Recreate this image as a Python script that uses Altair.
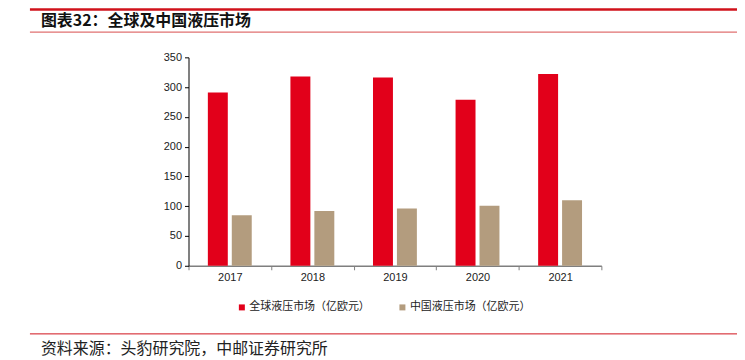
import altair as alt
import pandas as pd

years = ["2017", "2018", "2019", "2020", "2021"]
global_vals = [291, 318, 316, 279, 322]
china_vals = [85, 92, 96, 101, 110]
series = ["全球液压市场（亿欧元）", "中国液压市场（亿欧元）"]
colors = ["#E2001A", "#B39C7E"]
y_ticks = [0, 50, 100, 150, 200, 250, 300, 350]
title_text = ["图表32：全球及中国液压市场"]
source_text = ["资料来源：头豹研究院，中邮证券研究所"]

rows = []
for i, yr in enumerate(years):
    rows.append({"year": yr, "series": series[0], "value": global_vals[i]})
    rows.append({"year": yr, "series": series[1], "value": china_vals[i]})
df = pd.DataFrame(rows)

bars = alt.Chart(df).mark_bar().encode(
    x=alt.X("year:N", sort=years,
            scale=alt.Scale(paddingInner=0, paddingOuter=0),
            axis=alt.Axis(title=None, labelAngle=0, tickBand="extent",
                          domainColor="#7f7f7f", domainWidth=1.5,
                          tickColor="#7f7f7f", tickSize=4, tickWidth=1,
                          labelFont="Liberation Sans", labelFontSize=11,
                          labelColor="#222222", labelPadding=2)),
    xOffset=alt.XOffset("series:N", sort=series,
                        scale=alt.Scale(paddingInner=0.1667, paddingOuter=0.808)),
    y=alt.Y("value:Q",
            scale=alt.Scale(domain=[0, 350], nice=False),
            axis=alt.Axis(title=None, values=y_ticks, grid=False,
                          domainColor="#000000", domainWidth=1,
                          tickColor="#000000", tickSize=4, tickWidth=1,
                          labelFont="Liberation Sans", labelFontSize=11,
                          labelColor="#222222", labelPadding=3)),
    color=alt.Color("series:N", sort=series,
                    scale=alt.Scale(domain=series, range=colors),
                    legend=alt.Legend(title=None, orient="none", direction="horizontal",
                                      legendX=48, legendY=245, padding=0,
                                      symbolType="square", symbolSize=36,
                                      symbolStrokeWidth=0,
                                      labelFont="Noto Sans CJK SC", labelFontSize=11,
                                      labelColor="#222222", labelOffset=2,
                                      columnPadding=27, labelLimit=300))
)

title_df = pd.DataFrame({"t": title_text})
source_df = pd.DataFrame({"t": source_text})

title = alt.Chart(title_df).mark_text(
    align="left", baseline="middle", font="Noto Sans CJK SC",
    fontSize=16, fontWeight="bold", color="#111111"
).encode(x=alt.value(-148), y=alt.value(-36), text="t:N")

source = alt.Chart(source_df).mark_text(
    align="left", baseline="middle", font="Noto Sans CJK SC",
    fontSize=16, color="#222222"
).encode(x=alt.value(-148), y=alt.value(292), text="t:N")

top_line = alt.Chart(title_df).mark_rule(color="#D0121B", strokeWidth=2.5).encode(
    x=alt.value(-159), x2=alt.value(550), y=alt.value(-48))
mid_line = alt.Chart(title_df).mark_rule(color="#E07070", strokeWidth=1.2).encode(
    x=alt.value(-159), x2=alt.value(550), y=alt.value(-25.3))
bot_line = alt.Chart(title_df).mark_rule(color="#D0121B", strokeWidth=1).encode(
    x=alt.value(-159), x2=alt.value(550), y=alt.value(277.3))

chart = alt.layer(bars, top_line, mid_line, bot_line, title, source).properties(
    width=414, height=209,
    autosize=alt.AutoSizeParams(type="none"),
    padding={"left": 181, "top": 49, "right": 136, "bottom": 92},
    background="white"
).configure_view(stroke=None)

chart.save("out.html", embed_options={"renderer": "svg", "actions": False})
